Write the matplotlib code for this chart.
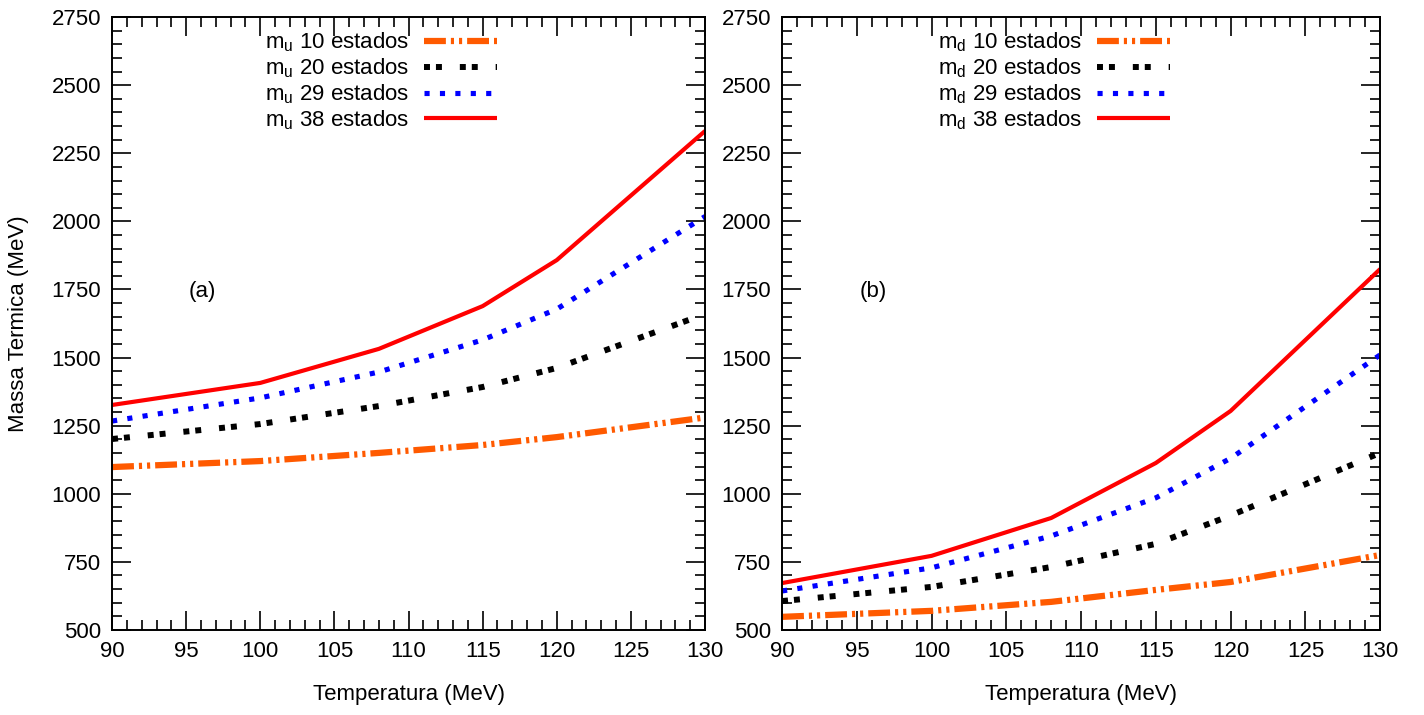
import matplotlib.pyplot as plt
from matplotlib.ticker import MultipleLocator

plt.rcParams['font.family'] = ['Liberation Sans', 'DejaVu Sans']
plt.rcParams['mathtext.fontset'] = 'custom'
plt.rcParams['mathtext.rm'] = 'Liberation Sans'

# temperatura (MeV)
T = [90, 100, 108, 115, 120, 130]

# massa termica quark u
mu_10 = [1098, 1120, 1150, 1179, 1208, 1280]
mu_20 = [1201, 1256, 1322, 1392, 1462, 1660]
mu_29 = [1267, 1352, 1447, 1565, 1678, 2018]
mu_38 = [1326, 1407, 1532, 1689, 1858, 2332]

# massa termica quark d
md_10 = [548, 570, 603, 647, 676, 775]
md_20 = [606, 658, 731, 816, 920, 1150]
md_29 = [643, 728, 845, 985, 1130, 1510]
md_38 = [672, 772, 911, 1113, 1304, 1825]

n_estados = [10, 20, 29, 38]
cores = ['#ff5a00', 'black', '#0000ff', '#ff0000']
larg = [4.5, 4.3, 3.7, 3.0]
estilos = [(0, (3.5, 0.8, 0.5, 0.8, 0.5, 0.8)), (0, (1, 1, 1, 3)), (0, (1, 2)), '-']

fig = plt.figure(figsize=(14.24, 7.15), dpi=100)
ax1 = fig.add_axes([0.0787, 0.119, 0.4164, 0.857])
ax2 = fig.add_axes([0.5492, 0.119, 0.42, 0.857])

def painel(ax, dados, sub, letra):
    for i in range(4):
        ax.plot(T, dados[i], color=cores[i], lw=larg[i], linestyle=estilos[i],
                dash_capstyle='butt', solid_capstyle='butt',
                label=r'm$_\mathrm{%s}$ %d estados' % (sub, n_estados[i]))
    ax.set_xlim(90, 130)
    ax.set_ylim(500, 2750)
    ax.xaxis.set_major_locator(MultipleLocator(5))
    ax.xaxis.set_minor_locator(MultipleLocator(1))
    ax.yaxis.set_major_locator(MultipleLocator(250))
    ax.yaxis.set_minor_locator(MultipleLocator(50))
    ax.tick_params(which='both', direction='in', top=True, right=True, labelsize=16, pad=8, width=1.2)
    ax.tick_params(which='major', length=14)
    ax.tick_params(which='minor', length=7)
    for s in ax.spines.values():
        s.set_linewidth(1.4)
    ax.set_xlabel('Temperatura (MeV)', fontsize=16, labelpad=16)
    ax.text(96.1, 1741, letra, fontsize=16, ha='center', va='center')
    ax.legend(loc='upper right', bbox_to_anchor=(0.649, 0.978), frameon=False,
              markerfirst=False, fontsize=16, handlelength=3.3, handletextpad=0.65,
              labelspacing=0.1, borderpad=0, borderaxespad=0)

painel(ax1, [mu_10, mu_20, mu_29, mu_38], 'u', '(a)')
painel(ax2, [md_10, md_20, md_29, md_38], 'd', '(b)')
ax1.set_ylabel('Massa Termica (MeV)', fontsize=16, labelpad=16)

fig.savefig('out.png', dpi=100)
